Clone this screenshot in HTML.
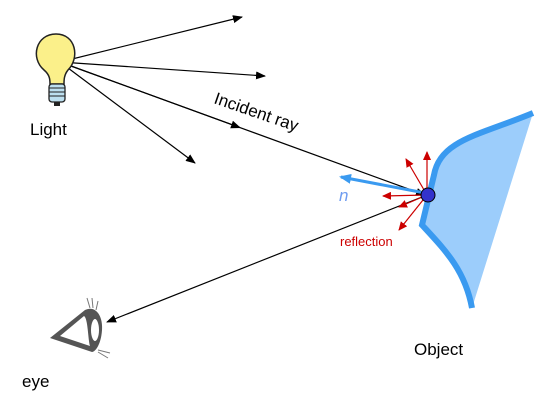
<!DOCTYPE html>
<html><head><style>body{margin:0;background:#fff}svg{display:block}</style></head><body>
<svg width="548" height="412" xmlns="http://www.w3.org/2000/svg" font-family="Liberation Sans, sans-serif">
<defs>
<marker id="k" markerWidth="10" markerHeight="8" refX="9" refY="4" orient="auto" markerUnits="userSpaceOnUse"><path d="M0,0L10,4L0,8z" fill="#000"/></marker>
<marker id="r" markerWidth="9" markerHeight="8" refX="8" refY="4" orient="auto" markerUnits="userSpaceOnUse"><path d="M0,0L9,4L0,8z" fill="#c00"/></marker>
<marker id="b" markerWidth="12" markerHeight="10" refX="10" refY="5" orient="auto" markerUnits="userSpaceOnUse"><path d="M0,0L12,5L0,10z" fill="#3a9af0"/></marker>
</defs>
<!-- object -->
<path d="M533,113 C480,135 440,140 434,175 L422,225 C445,250 465,270 472,308 Z" fill="#9ccdfb"/>
<path d="M533,113 C480,135 440,140 434,175 L422,225 C445,250 465,270 472,308" fill="none" stroke="#3a9af0" stroke-width="6"/>
<!-- light rays -->
<g stroke="#000" stroke-width="1.2" fill="none">
<line x1="60" y1="62" x2="242" y2="17" marker-end="url(#k)"/>
<line x1="60" y1="62" x2="265" y2="76" marker-end="url(#k)"/>
<line x1="60" y1="62" x2="195" y2="163" marker-end="url(#k)"/>
<line x1="60" y1="62" x2="425" y2="195" marker-end="url(#k)"/>
<line x1="60" y1="62" x2="240" y2="127.6" marker-end="url(#k)"/>
<line x1="427" y1="195" x2="107" y2="322" marker-end="url(#k)"/>
</g>
<!-- reflections -->
<g stroke="#c00" stroke-width="1.2">
<line x1="427" y1="195" x2="427" y2="152" marker-end="url(#r)"/>
<line x1="427" y1="195" x2="406" y2="159" marker-end="url(#r)"/>
<line x1="427" y1="195" x2="383" y2="196" marker-end="url(#r)"/>
<line x1="427" y1="195" x2="399" y2="207" marker-end="url(#r)"/>
<line x1="427" y1="195" x2="399" y2="230" marker-end="url(#r)"/>
</g>
<line x1="425" y1="193" x2="341" y2="177" stroke="#3a9af0" stroke-width="3" marker-end="url(#b)"/>
<circle cx="428" cy="195" r="7" fill="#3333cc" stroke="#000" stroke-width="1"/>
<!-- bulb -->
<path d="M44,70 C30,58 36,34 56,34 C76,34 80,58 68,70 C64,75 64,80 64,84 L50,84 C50,80 50,75 44,70Z" fill="#fbf08a" stroke="#222" stroke-width="1.5"/>
<rect x="49" y="84" width="16" height="18" rx="3" fill="#bde0f0" stroke="#222" stroke-width="1.3"/>
<path d="M49,88H65M49,92H65M49,96H65" stroke="#222"/>
<path d="M54,102h6v4h-6z" fill="#222"/>
<text x="30" y="135" font-size="17" fill="#000">Light</text>
<text transform="translate(213,103) rotate(19)" font-size="17" fill="#000">Incident ray</text>
<text x="339" y="201" font-size="17" font-style="italic" fill="#6f9cf0">n</text>
<text x="340" y="246" font-size="13" fill="#c00">reflection</text>
<text x="414" y="355" font-size="17" fill="#000">Object</text>
<text x="22" y="387" font-size="17" fill="#000">eye</text>
<!-- eye -->
<path d="M50,338 L85,310 C95,305 103,315 102,330 C101,345 95,352 92,352 Z" fill="#555"/>
<path d="M60,336 L84,316 C88,318 88,340 90,346 Z" fill="#fff"/>
<ellipse cx="95" cy="330" rx="5" ry="12" fill="#fff" stroke="#555" stroke-width="2"/>
<path d="M90,308 l-3,-10 M93,308 l-1,-10 M96,310 l2,-9 M98,350 l12,3 M98,352 l10,6" stroke="#777" stroke-width="1"/>
</svg>
</body></html>
